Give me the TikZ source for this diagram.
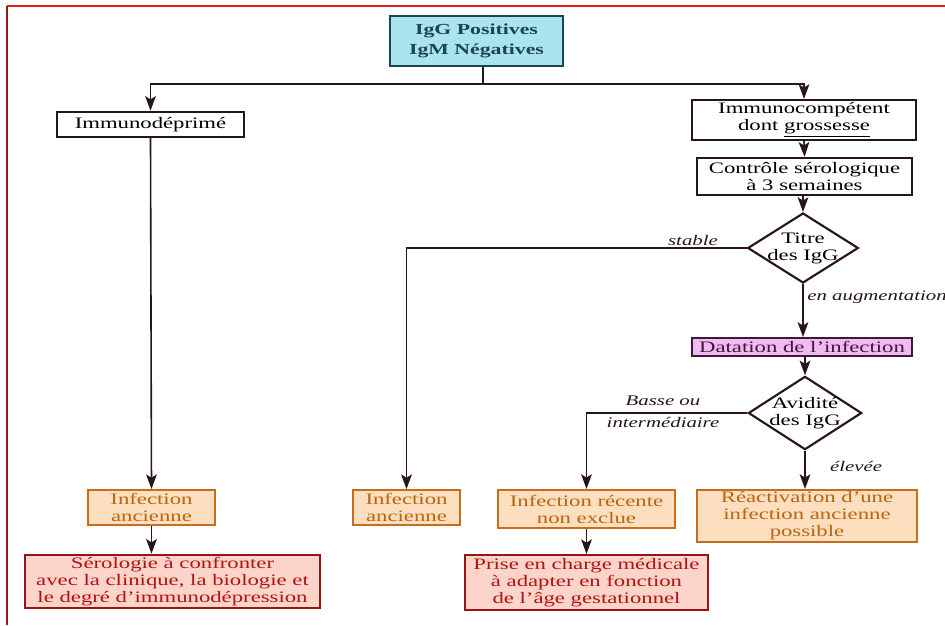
\documentclass[tikz,border=0pt]{standalone}
\usepackage{fontspec}
\setmainfont{Liberation Serif}[FakeStretch=1.42]
\usepackage{amssymb}
\usepackage[dvipsnames]{xcolor}
\usepackage{tikz}
\usetikzlibrary{shapes}
\usetikzlibrary{arrows.meta}

\definecolor{framered}{RGB}{220,30,30}
\definecolor{framedark}{RGB}{150,25,25}
\definecolor{linkline}{RGB}{40,22,22}
\definecolor{cyanfill}{RGB}{170,228,240}
\definecolor{cyanline}{RGB}{25,70,80}
\definecolor{pinkfill}{RGB}{242,186,240}
\definecolor{pinkline}{RGB}{60,25,60}
\definecolor{orangefill}{RGB}{253,222,190}
\definecolor{orangeline}{RGB}{200,108,30}
\definecolor{orangetext}{RGB}{184,102,16}
\definecolor{redfill}{RGB}{252,212,202}
\definecolor{redline}{RGB}{150,20,20}
\definecolor{redtext}{RGB}{178,18,18}

\begin{document}
\begin{tikzpicture}[x=0.75pt,y=0.75pt,yscale=-1,xscale=1,
    every node/.style={align=center, font=\fontsize{12}{12.8}\selectfont, inner sep=0pt},
    plainbox/.style={draw=linkline, line width=1.6pt, fill=white, text=black},
    topbox/.style={draw=cyanline, line width=1.8pt, fill=cyanfill, text=cyanline, font=\fontsize{11.5}{15}\selectfont\bfseries},
    datebox/.style={draw=pinkline, line width=1.6pt, fill=pinkfill, text=pinkline},
    choice/.style={diamond, draw=linkline, line width=1.6pt, fill=white, aspect=1.6, inner sep=-2.5pt},
    oldbox/.style={draw=orangeline, line width=1.6pt, fill=orangefill, text=orangetext},
    carebox/.style={draw=redline, line width=1.7pt, fill=redfill, text=redtext},
    branch/.style={font=\fontsize{11}{12.5}\selectfont\itshape, text=linkline},
    link/.style={draw=linkline, line width=1.2pt},
    arr/.style={link, -{Stealth[length=11pt,width=8pt,inset=2.5pt]}}
]
\useasboundingbox (0,0) rectangle (945,625);
%Straight Lines (frame)
\draw [framered, line width=1.3pt] (7,6) -- (945,6);
\draw [framedark, line width=1.2pt] (7,6) -- (7,625);

% Text Node
\draw (476.5,41) node [topbox, minimum width=130pt, minimum height=37.5pt] (top) {IgG Positives\\IgM Négatives};
% Text Node
\draw (150.5,124.5) node [plainbox, minimum width=140pt, minimum height=19pt] (immdep) {Immunodéprimé};
% Text Node
\draw (804,120) node [plainbox, minimum width=168pt, minimum height=30pt] (immcomp) {Immunocompétent\\dont \underline{grossesse}};
% Text Node
\draw (804.5,176.5) node [plainbox, minimum width=161pt, minimum height=28pt] (controle) {Contrôle sérologique\\à 3 semaines};
% Text Node
\draw (803,248) node [choice, minimum width=83pt, minimum height=52.5pt] (titre) {Titre\\des IgG};
% Text Node
\draw (802,347) node [datebox, minimum width=165pt, minimum height=13.5pt] (datation) {Datation de l’infection};
% Text Node
\draw (805,413) node [choice, minimum width=85pt, minimum height=55pt] (avidite) {Avidité\\des IgG};
% Text Node
\draw (151.5,507.5) node [oldbox, minimum width=95pt, minimum height=26pt] (ancA) {Infection\\ancienne};
% Text Node
\draw (406.5,507.5) node [oldbox, minimum width=80pt, minimum height=26pt] (ancB) {Infection\\ancienne};
% Text Node
\draw (586.5,509) node [oldbox, minimum width=133pt, minimum height=28.5pt] (recente) {Infection récente\\non exclue};
% Text Node
\draw (807,516) node [oldbox, minimum width=165pt, minimum height=39pt] (reactiv) {Réactivation d’une\\infection ancienne\\possible};
% Text Node
\draw (172.5,581.5) node [carebox, minimum width=221pt, minimum height=40pt] (serol) {Sérologie à confronter\\avec la clinique, la biologie et\\le degré d’immunodépression};
% Text Node
\draw (586.5,582.5) node [carebox, minimum width=182pt, minimum height=41pt] (prise) {Prise en charge médicale\\à adapter en fonction\\de l’âge gestationnel};

%Straight Lines
\coordinate (split) at (483,84);
\draw [link] (top.south -| split) -- (split);
\draw [arr] (split) -| (immdep.north);
\draw [arr] (split) -| (immcomp.north);
\draw [arr] (immdep.south) -- (ancA.north);
\draw [arr] (immcomp.south) -- (controle.north);
\draw [arr] (controle.south -| titre.north) -- (titre.north);
\draw [arr] (titre.west) -| (ancB.north);
\draw [arr] (titre.south) -- (datation.north -| titre.south);
\draw [arr] (datation.south -| avidite.north) -- (avidite.north);
\draw [arr] (avidite.west) -| (recente.north);
\draw [arr] (avidite.south) -- (reactiv.north -| avidite.south);
\draw [arr] (ancA.south) -- (serol.north -| ancA.south);
\draw [arr] (recente.south) -- (prise.north);

% Text Node
\draw (693,240) node [branch] (lstable) {stable};
% Text Node
\draw (877,297) node [branch] (lhausse) {en augmentation};
% Text Node
\draw (663,412) node [branch, font=\fontsize{11}{16.5}\selectfont\itshape] (lbasse) {Basse ou\\intermédiaire};
% Text Node
\draw (856,466) node [branch] (leleve) {élevée};
\end{tikzpicture}
\end{document}
